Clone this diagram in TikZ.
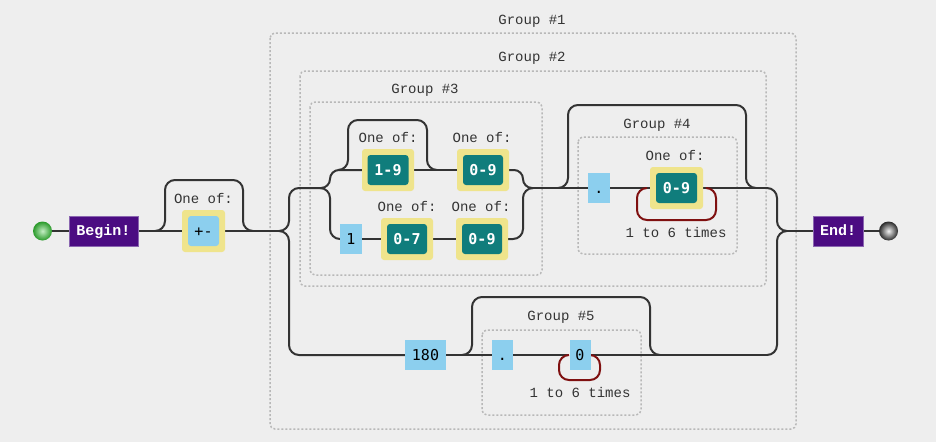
\documentclass[tikz,border=0pt]{standalone}
\usepackage{fontspec}
\newfontfamily\lblfont{Liberation Mono}
\newfontfamily\litfont{DejaVu Sans Mono}
\definecolor{bgc}{HTML}{EEEEEE}
\definecolor{railc}{HTML}{333333}
\definecolor{grpc}{HTML}{B8B8B8}
\definecolor{lblc}{HTML}{333333}
\definecolor{yelc}{HTML}{EFE48C}
\definecolor{tealc}{HTML}{107D7C}
\definecolor{litc}{HTML}{8CCFEE}
\definecolor{purp}{HTML}{4B0C82}
\definecolor{purpedge}{HTML}{8A66B0}
\definecolor{loopc}{HTML}{7F1010}
\definecolor{startin}{HTML}{C4EEC4}
\definecolor{startout}{HTML}{2A9A2A}
\definecolor{stopin}{HTML}{F2F2F2}
\definecolor{stopout}{HTML}{2A2A2A}
\pgfdeclarelayer{bg}
\pgfdeclarelayer{rails}
\pgfsetlayers{bg,rails,main}
\tikzset{
  rail/.style={draw=railc, line width=2pt, rounded corners=10pt},
  loopline/.style={draw=loopc, line width=2pt, rounded corners=10pt},
  grp/.style={draw=grpc, line width=1.5pt, dash pattern=on 2pt off 2pt, rounded corners=5pt},
  lbl/.style={font=\lblfont\fontsize{14}{15}\selectfont, text=lblc, inner sep=0pt, text height=8pt, text depth=0pt},
  yelbox/.style={fill=yelc, rounded corners=3pt, minimum width=52pt, minimum height=42pt, inner sep=0pt},
  rangebox/.style={fill=tealc, rounded corners=3pt, minimum width=41pt, minimum height=30pt, inner sep=0pt, text=white, text height=11pt, text depth=0pt, font=\litfont\bfseries\fontsize{15}{17}\selectfont},
  litbox/.style={fill=litc, minimum height=30pt, inner sep=0pt, text=black, text height=11pt, text depth=0pt, font=\litfont\fontsize{15}{17}\selectfont},
  anchorbox/.style={fill=purp, draw=purpedge, line width=0.6pt, minimum height=30pt, inner sep=0pt, text=white, text height=9pt, text depth=0pt, font=\lblfont\bfseries\fontsize{15}{17}\selectfont},
  endball/.style={circle, inner sep=0pt, minimum size=19pt},
}
\begin{document}
\begin{tikzpicture}[x=1pt,y=-1pt]
\begin{pgfonlayer}{bg}
  \fill[bgc] (0,0) rectangle (936,442);
  \useasboundingbox (0,0) rectangle (936,442);
  \draw[grp] (270,33) rectangle (796,429);
  \draw[grp] (300,71) rectangle (766,286);
  \draw[grp] (310,102) rectangle (542,275);
  \draw[grp] (578,137) rectangle (737,254);
  \draw[grp] (482,330) rectangle (641,415);
\end{pgfonlayer}

% group labels
\node[lbl] (g1lbl) at (532,20) {Group \#1};
\node[lbl] (g2lbl) at (532,57) {Group \#2};
\node[lbl] (g3lbl) at (425,89) {Group \#3};
\node[lbl] (g4lbl) at (657,124) {Group \#4};
\node[lbl] (g5lbl) at (561,316) {Group \#5};

% start / begin
\node[endball, inner color=startin, outer color=startout] (start) at (42.5,231) {};
\node[anchorbox, minimum width=69pt] (begin) at (103.5,231) {Begin!};

% +- charset
\node[yelbox, minimum width=43pt] (pmY) at (203.5,231) {};
\node[litbox, rounded corners=3pt, minimum width=31pt] (pm) at (pmY) {+-};
\node[lbl] (pmL) at (203.5,199) {One of:};

% group 3
\node[yelbox] (r19Y) at (388,170) {};
\node[rangebox] (r19) at (r19Y) {1-9};
\node[lbl] (r19L) at (388,138) {One of:};
\node[yelbox] (r09aY) at (483,170) {};
\node[rangebox, minimum width=40pt] (r09a) at (r09aY) {0-9};
\node[lbl] (r09aL) at (482,138) {One of:};
\node[litbox, minimum width=22pt] (lit1) at (351,239) {1};
\node[yelbox] (r07Y) at (407,239) {};
\node[rangebox, minimum width=40pt] (r07) at (r07Y) {0-7};
\node[lbl] (r07L) at (407,207) {One of:};
\node[yelbox] (r09bY) at (482,239) {};
\node[rangebox, minimum width=40pt] (r09b) at (r09bY) {0-9};
\node[lbl] (r09bL) at (481,207) {One of:};

% group 4
\node[litbox, minimum width=22pt] (dot4) at (599,188) {.};
\node[yelbox, minimum width=53pt] (r09cY) at (676.5,188) {};
\node[rangebox] (r09c) at (r09cY) {0-9};
\node[lbl] (r09cL) at (675,156) {One of:};
\node[lbl] (rep4) at (676,233) {1 to 6 times};

% lower branch / group 5
\node[litbox, minimum width=41pt] (lit180) at (425.5,355) {180};
\node[litbox, minimum width=21pt] (dot5) at (502.5,355) {.};
\node[litbox, minimum width=21pt] (lit0) at (580,355) {0};
\node[lbl] (rep5) at (580,393) {1 to 6 times};

% end
\node[anchorbox, minimum width=50pt] (end) at (838,231) {End!};
\node[endball, inner color=stopin, outer color=stopout] (stop) at (888.5,231) {};

% junction coordinates
\coordinate (s1) at (279,231);
\coordinate (g3in) at (320,188);
\coordinate (g3out) at (533,188);
\coordinate (g2up) at (767,188);
\coordinate (g2low) at (767,355);
\coordinate (m1) at (787,231);

\begin{pgfonlayer}{rails}
  \draw[rail] (start.east) -- (begin.west);
  \draw[rail] (begin.east) -- (pmY.west);
  \draw[rail] (pmY.east) -- (s1);
  \draw[rail] (155,231) -- (165,231) -- (165,180) -- (243,180) -- (243,231) -- (253,231);
  % split
  \draw[rail] (s1) -- (289,231) -- (289,188) -- (g3in);
  \draw[rail] (s1) -- (289,231) -- (289,355) -- (lit180.west);
  % group 3
  \draw[rail, rounded corners=9pt] (g3in) -- (330,188) -- (330,170) -- (r19Y.west);
  \draw[rail] (g3in) -- (330,188) -- (330,239) -- (lit1.west);
  \draw[rail] (r19Y.east) -- (r09aY.west);
  \draw[rail] (338,170) -- (348,170) -- (348,120) -- (427,120) -- (427,170) -- (437,170);
  \draw[rail] (lit1.east) -- (r07Y.west);
  \draw[rail] (r07Y.east) -- (r09bY.west);
  \draw[rail, rounded corners=9pt] (r09aY.east) -- (523,170) -- (523,188) -- (g3out);
  \draw[rail] (r09bY.east) -- (523,239) -- (523,188) -- (g3out);
  % group 4
  \draw[rail] (g3out) -- (dot4.west);
  \draw[rail] (dot4.east) -- (r09cY.west);
  \draw[rail] (r09cY.east) -- (g2up);
  \draw[rail] (558,188) -- (568,188) -- (568,105) -- (746,105) -- (746,188) -- (756,188);
  \draw[loopline] (647,188) -- (637,188) -- (637,220) -- (716,220) -- (716,188) -- (706,188);
  % lower branch
  \draw[rail] (lit180.east) -- (dot5.west);
  \draw[rail] (dot5.east) -- (lit0.west);
  \draw[rail] (lit0.east) -- (g2low);
  \draw[rail] (462,355) -- (472,355) -- (472,297) -- (650,297) -- (650,355) -- (660,355);
  \draw[loopline] (569,355) -- (559,355) -- (559,380) -- (600,380) -- (600,355) -- (590,355);
  % merge
  \draw[rail] (g2up) -- (777,188) -- (777,231) -- (m1);
  \draw[rail] (g2low) -- (777,355) -- (777,231) -- (m1);
  \draw[rail] (m1) -- (end.west);
  \draw[rail] (end.east) -- (stop.west);
\end{pgfonlayer}
\end{tikzpicture}
\end{document}
